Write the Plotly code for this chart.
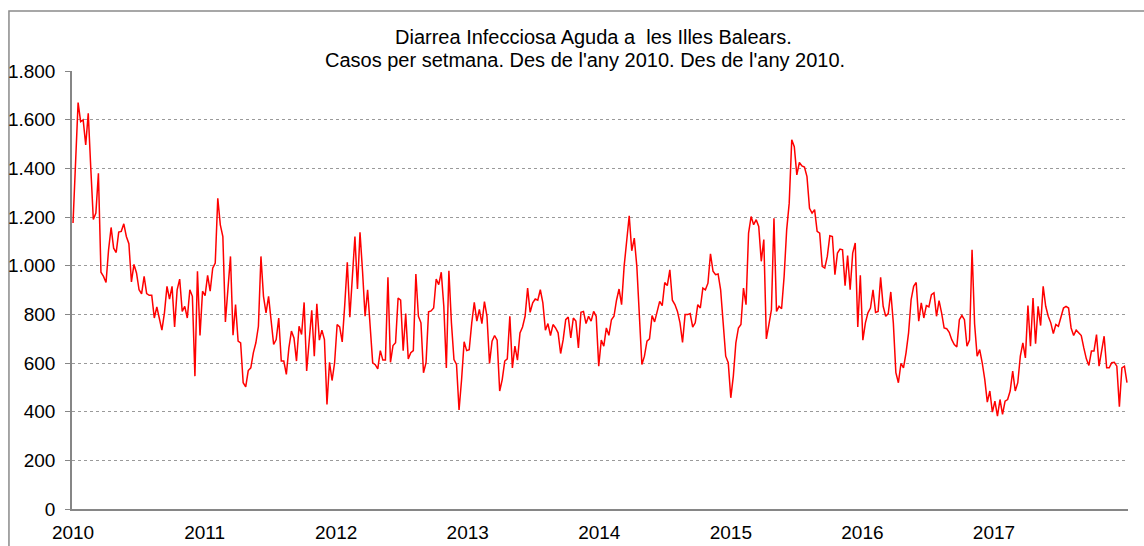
import plotly.graph_objects as go

# Weekly cases (Diarrea Infecciosa Aguda, Illes Balears), 2010-2017
cases_2010_2011a = [
    1175, 1420, 1670, 1592, 1599, 1496, 1626, 1400, 1190, 1216, 1380, 973, 956, 931, 1065, 1157,
    1072, 1054, 1138, 1141, 1172, 1120, 1090, 933, 1005, 970, 901, 884, 956, 885, 878, 878,
    785, 830, 778, 735, 806, 915, 863, 915, 748, 901, 945,
    812, 833, 785, 901, 874, 546, 977, 713, 895, 877, 960, 895, 990, 1011, 1277, 1168, 1120,
    769, 901, 1038, 714, 840, 690, 683, 519, 502, 569, 580, 642, 683, 751, 1038, 874, 806,
    874, 778, 676, 696, 785, 608, 608, 553, 662,
]
cases_2011b_2013a = [
    731, 703, 608, 751, 717, 849, 567, 710, 817, 628, 843, 694, 735, 696, 430, 603, 528, 601,
    758, 748, 687, 840, 1014, 788, 956, 1120, 904, 1137, 977, 792, 901, 737, 601, 593, 576,
    651, 612, 612, 952, 603, 672, 683, 867,
    858, 651, 803, 617, 642, 651, 966, 792, 765, 560, 601, 810, 814, 826, 945, 922, 973, 833,
    580, 979, 765, 614, 594, 407, 532, 687, 651, 655, 765, 849, 772, 820, 762, 852, 792, 598,
    690, 713, 694, 485, 532, 608, 617, 792,
]
cases_2013b_2015a = [
    580, 669, 612, 724, 748, 792, 908, 808, 847, 863, 858, 901, 847, 735, 762, 713, 758, 744,
    724, 639, 696, 778, 789, 703, 785, 772, 662, 808, 812, 762, 792, 772, 812, 792, 587, 694,
    669, 744, 714, 778, 792, 858, 904,
    840, 997, 1107, 1205, 1061, 1113, 997, 792, 594, 628, 690, 699, 795, 769, 812, 853, 836,
    931, 918, 983, 858, 840, 812, 765, 685, 799, 799, 803, 748, 765, 840, 826, 908, 901, 928,
    1049, 977, 963, 966, 901, 765, 628, 601, 457,
]
cases_2015b_2017 = [
    546, 683, 744, 758, 908, 840, 1134, 1202, 1168, 1189, 1161, 1018, 1107, 699, 758, 819,
    1195, 812, 833, 823, 956, 1147, 1257, 1517, 1489, 1373, 1424, 1410, 1405, 1366, 1236, 1216,
    1230, 1141, 1134, 997, 990, 1038, 1123, 1120, 963, 1052, 1068,
    1065, 918, 1042, 901, 1052, 1093, 748, 960, 694, 765, 806, 826, 901, 808, 812, 952, 833,
    792, 803, 892, 765, 560, 519, 598, 580, 642, 724, 860, 915, 931, 772, 847, 785, 836, 831,
    881, 888, 792, 856, 806, 744, 741, 726,
    696, 676, 666, 778, 795, 778, 669, 694, 1065, 760, 628, 655, 601, 533, 439, 485, 398, 443,
    382, 450, 389, 443, 450, 485, 567, 485, 519, 628, 683, 621, 836,
    669, 867, 679, 833, 754, 915, 833, 792, 765, 721, 758, 751, 792, 826, 833, 826, 744, 713,
    735, 726, 713, 662, 617, 590, 649, 649, 717, 587, 655, 710, 580, 580, 601, 603, 587, 420,
    580, 587, 519,
]
cases = cases_2010_2011a + cases_2011b_2013a + cases_2013b_2015a + cases_2015b_2017
weeks = list(range(len(cases)))

years = ["2010", "2011", "2012", "2013", "2014", "2015", "2016", "2017"]
y_ticks = [0, 200, 400, 600, 800, 1000, 1200, 1400, 1600, 1800]
y_tick_text = ["0", "200", "400", "600", "800", "1.000", "1.200", "1.400", "1.600", "1.800"]

title_line1 = "Diarrea Infecciosa Aguda a \u00a0les Illes Balears."
title_line2 = "Casos per setmana. Des de l'any 2010. Des de l'any 2010."

weeks_per_year = len(cases) / 8.03
year_pos = [i * weeks_per_year for i in range(len(years))]

FONT = "Liberation Sans, Arial, sans-serif"
AX = "#868686"

fig = go.Figure()
fig.add_trace(go.Scatter(
    x=weeks, y=cases, mode="lines",
    line=dict(color="#ff0000", width=1.5),
    hoverinfo="y", showlegend=False,
))

fig.update_layout(
    width=1144, height=546,
    margin=dict(l=72, r=16, t=71, b=37),
    paper_bgcolor="white", plot_bgcolor="white",
    font=dict(family=FONT, color="black", size=19),
    xaxis=dict(
        range=[-0.4, len(cases) - 0.6],
        tickvals=year_pos, ticktext=years,
        showgrid=False, zeroline=False,
        showline=True, linecolor=AX, linewidth=1.5,
        ticks="", ticklabelstandoff=5,
        tickfont=dict(size=19),
        automargin=False,
    ),
    yaxis=dict(
        range=[0, 1800],
        tickvals=y_ticks, ticktext=y_tick_text,
        showgrid=True, gridcolor="#9a9a9a", griddash="dot", gridwidth=1,
        zeroline=False,
        showline=True, linecolor=AX, linewidth=1.5,
        ticks="outside", ticklen=5, tickcolor=AX,
        ticklabelstandoff=6,
        tickfont=dict(size=19),
        automargin=False,
    ),
    annotations=[
        dict(text=title_line1, xref="paper", yref="paper", x=0.494, y=1.0787,
             xanchor="center", yanchor="middle", showarrow=False,
             font=dict(family=FONT, size=20, color="black")),
        dict(text=title_line2, xref="paper", yref="paper", x=0.486, y=1.0262,
             xanchor="center", yanchor="middle", showarrow=False,
             font=dict(family=FONT, size=20, color="black")),
    ],
    shapes=[
        dict(type="rect", xref="paper", yref="paper",
             x0=-0.0597, x1=1.05, y0=-0.2, y1=1.1368,
             line=dict(color="#8a8a8a", width=1.5), fillcolor="rgba(0,0,0,0)",
             layer="below"),
    ],
)

fig.write_html(
    "out.html",
    config={"displayModeBar": False},
    post_script="document.body.style.margin='0';document.body.style.overflow='hidden';",
)
